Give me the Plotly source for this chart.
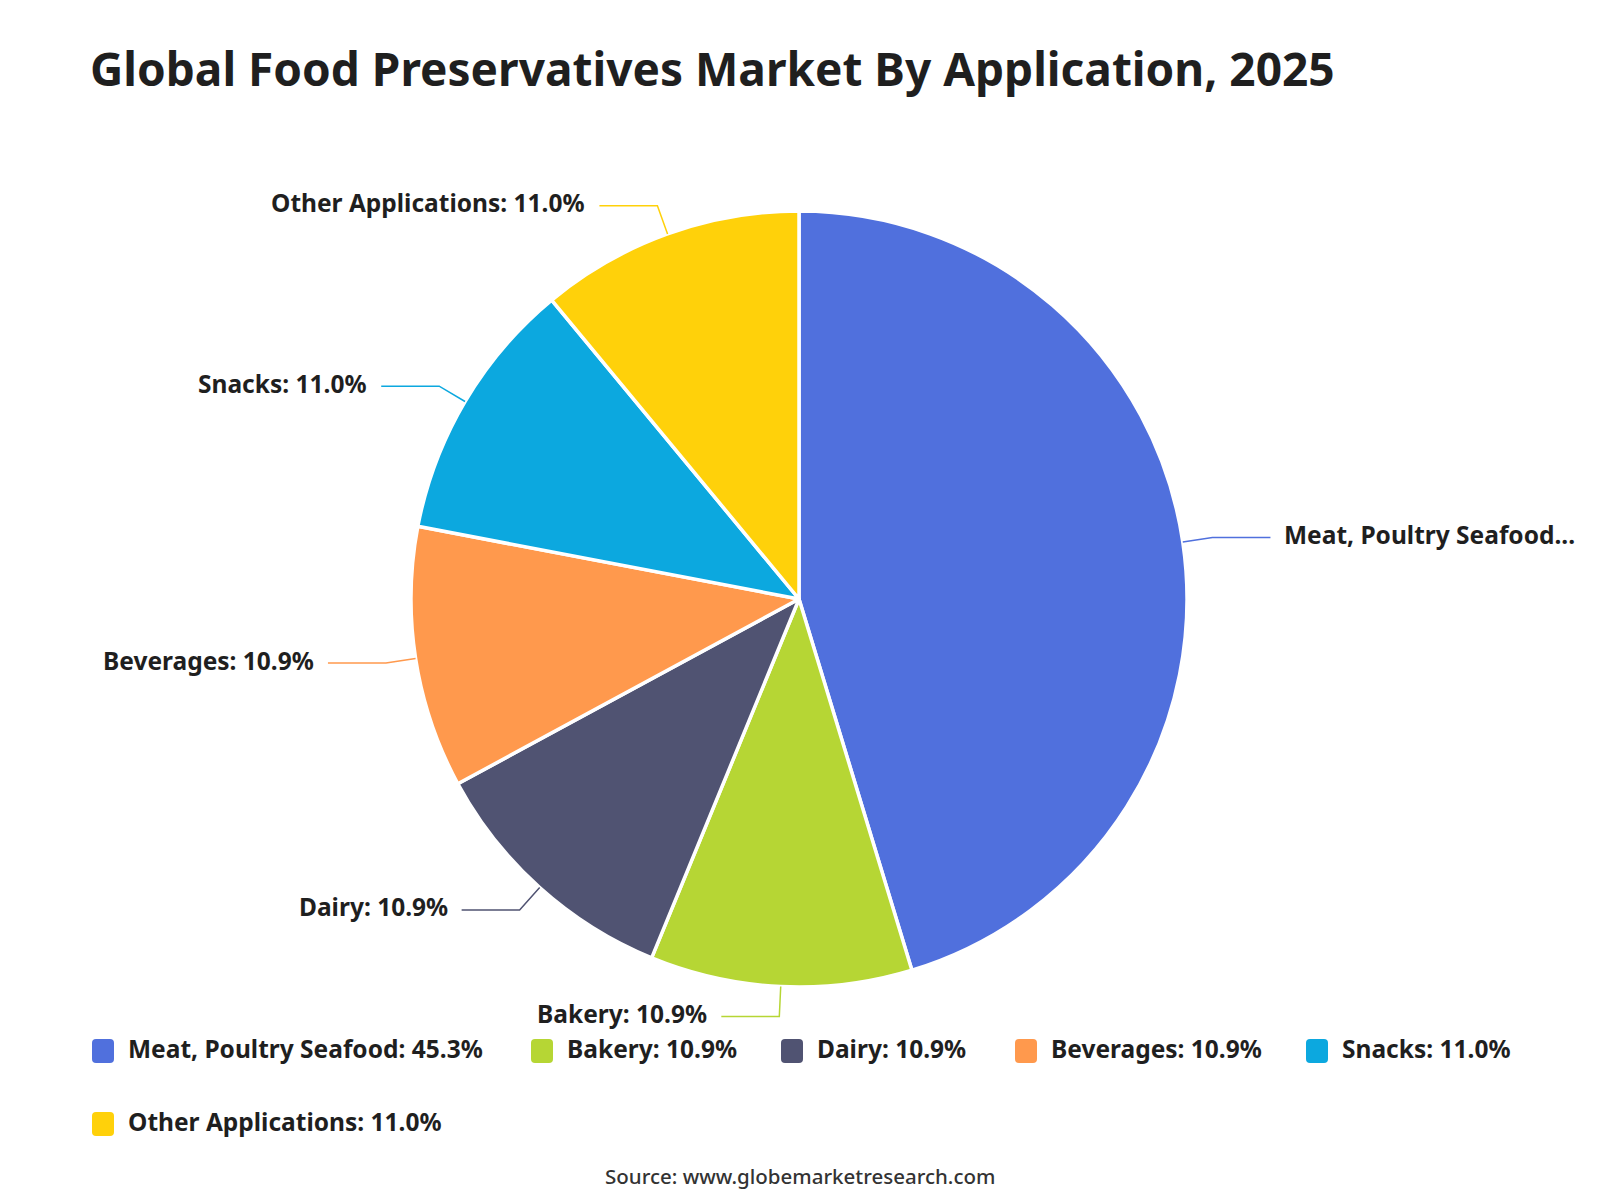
import math
import plotly.graph_objects as go

# ---------------- data ----------------
CATEGORIES = ["Meat, Poultry Seafood", "Bakery", "Dairy", "Beverages", "Snacks", "Other Applications"]
SHARES = [45.3, 10.9, 10.9, 10.9, 11.0, 11.0]
COLORS = ["#5070DD", "#B6D634", "#505372", "#FF994D", "#0CA8DF", "#FFD10A"]
TITLE = "Global Food Preservatives Market By Application, 2025"
SOURCE = "Source: www.globemarketresearch.com"

# ---------------- layout constants (pixels) ----------------
W, H = 1600, 1200
CX, CY, R = 799, 599, 388
FONT = "Noto Sans"
TEXT_COLOR = "#1f1f1f"
LABEL_SIZE = 24.5
LEAD1, LEAD2, GAP = 30, 58, 12
TEXT_DY = -3
CHAR_W = 12.0
LEGEND_X = [92, 531, 781, 1015, 1306, 92]
LEGEND_Y = [1051, 1051, 1051, 1051, 1051, 1124]
SW_W, SW_H = 22, 24


def px(x):
    return x / W


def py(y):
    return 1 - y / H


fig = go.Figure()
fig.add_trace(go.Pie(
    labels=CATEGORIES,
    values=SHARES,
    sort=False,
    direction="clockwise",
    rotation=0,
    marker=dict(colors=COLORS, line=dict(color="white", width=3.5)),
    textinfo="none",
    hoverinfo="label+percent",
    showlegend=False,
    domain=dict(x=[px(CX - R), px(CX + R)], y=[py(CY + R), py(CY - R)]),
))

shapes = []
annotations = []

total = sum(SHARES)
start = 0.0
for cat, val, col in zip(CATEGORIES, SHARES, COLORS):
    span = val / total * 360.0
    mid = math.radians(start + span / 2)
    start += span
    sx, sy = CX + R * math.sin(mid), CY - R * math.cos(mid)
    ex, ey = CX + (R + LEAD1) * math.sin(mid), CY - (R + LEAD1) * math.cos(mid)
    right = math.sin(mid) >= 0
    hx = ex + (LEAD2 if right else -LEAD2)
    shapes.append(dict(
        type="path", xref="paper", yref="paper",
        path=f"M{px(sx)},{py(sy)} L{px(ex)},{py(ey)} L{px(hx)},{py(ey)}",
        line=dict(color=col, width=1.5),
    ))
    text = f"{cat}: {val:.1f}%"
    tx = hx + (GAP if right else -GAP)
    avail = (W - tx - 20) if right else (tx - 20)
    if len(text) * CHAR_W > avail:
        n = int(avail / CHAR_W) - 3
        text = text[:n].rstrip() + "..."
    annotations.append(dict(
        xref="paper", yref="paper", x=px(tx), y=py(ey + TEXT_DY),
        xanchor="left" if right else "right", yanchor="middle",
        text=f"<b>{text}</b>", showarrow=False,
        font=dict(family=FONT, size=LABEL_SIZE, color=TEXT_COLOR),
    ))


def rounded_rect(x0, y0, x1, y1, r):
    return (f"M{px(x0 + r)},{py(y0)} L{px(x1 - r)},{py(y0)} Q{px(x1)},{py(y0)} {px(x1)},{py(y0 + r)} "
            f"L{px(x1)},{py(y1 - r)} Q{px(x1)},{py(y1)} {px(x1 - r)},{py(y1)} "
            f"L{px(x0 + r)},{py(y1)} Q{px(x0)},{py(y1)} {px(x0)},{py(y1 - r)} "
            f"L{px(x0)},{py(y0 + r)} Q{px(x0)},{py(y0)} {px(x0 + r)},{py(y0)} Z")


# legend
for cat, val, col, lx, ly in zip(CATEGORIES, SHARES, COLORS, LEGEND_X, LEGEND_Y):
    shapes.append(dict(
        type="path", xref="paper", yref="paper",
        path=rounded_rect(lx, ly - SW_H / 2, lx + SW_W, ly + SW_H / 2, 4),
        fillcolor=col, line=dict(width=0),
    ))
    annotations.append(dict(
        xref="paper", yref="paper", x=px(lx + SW_W + 12), y=py(ly + TEXT_DY),
        xanchor="left", yanchor="middle",
        text=f"<b>{cat}: {val:.1f}%</b>", showarrow=False,
        font=dict(family=FONT, size=LABEL_SIZE, color=TEXT_COLOR),
    ))

# source
annotations.append(dict(
    xref="paper", yref="paper", x=px(800), y=py(1176),
    xanchor="center", yanchor="middle",
    text=SOURCE, showarrow=False,
    font=dict(family=FONT, size=20.5, color="#333333", weight=500),
))

fig.update_layout(
    width=W, height=H,
    margin=dict(l=0, r=0, t=0, b=0),
    paper_bgcolor="white", plot_bgcolor="white",
    title=dict(
        text=f"<b>{TITLE}</b>", x=px(90), xanchor="left", y=py(70), yanchor="middle",
        font=dict(family=FONT, size=46, color=TEXT_COLOR),
    ),
    shapes=shapes,
    annotations=annotations,
)

fig.write_html("out.html")
